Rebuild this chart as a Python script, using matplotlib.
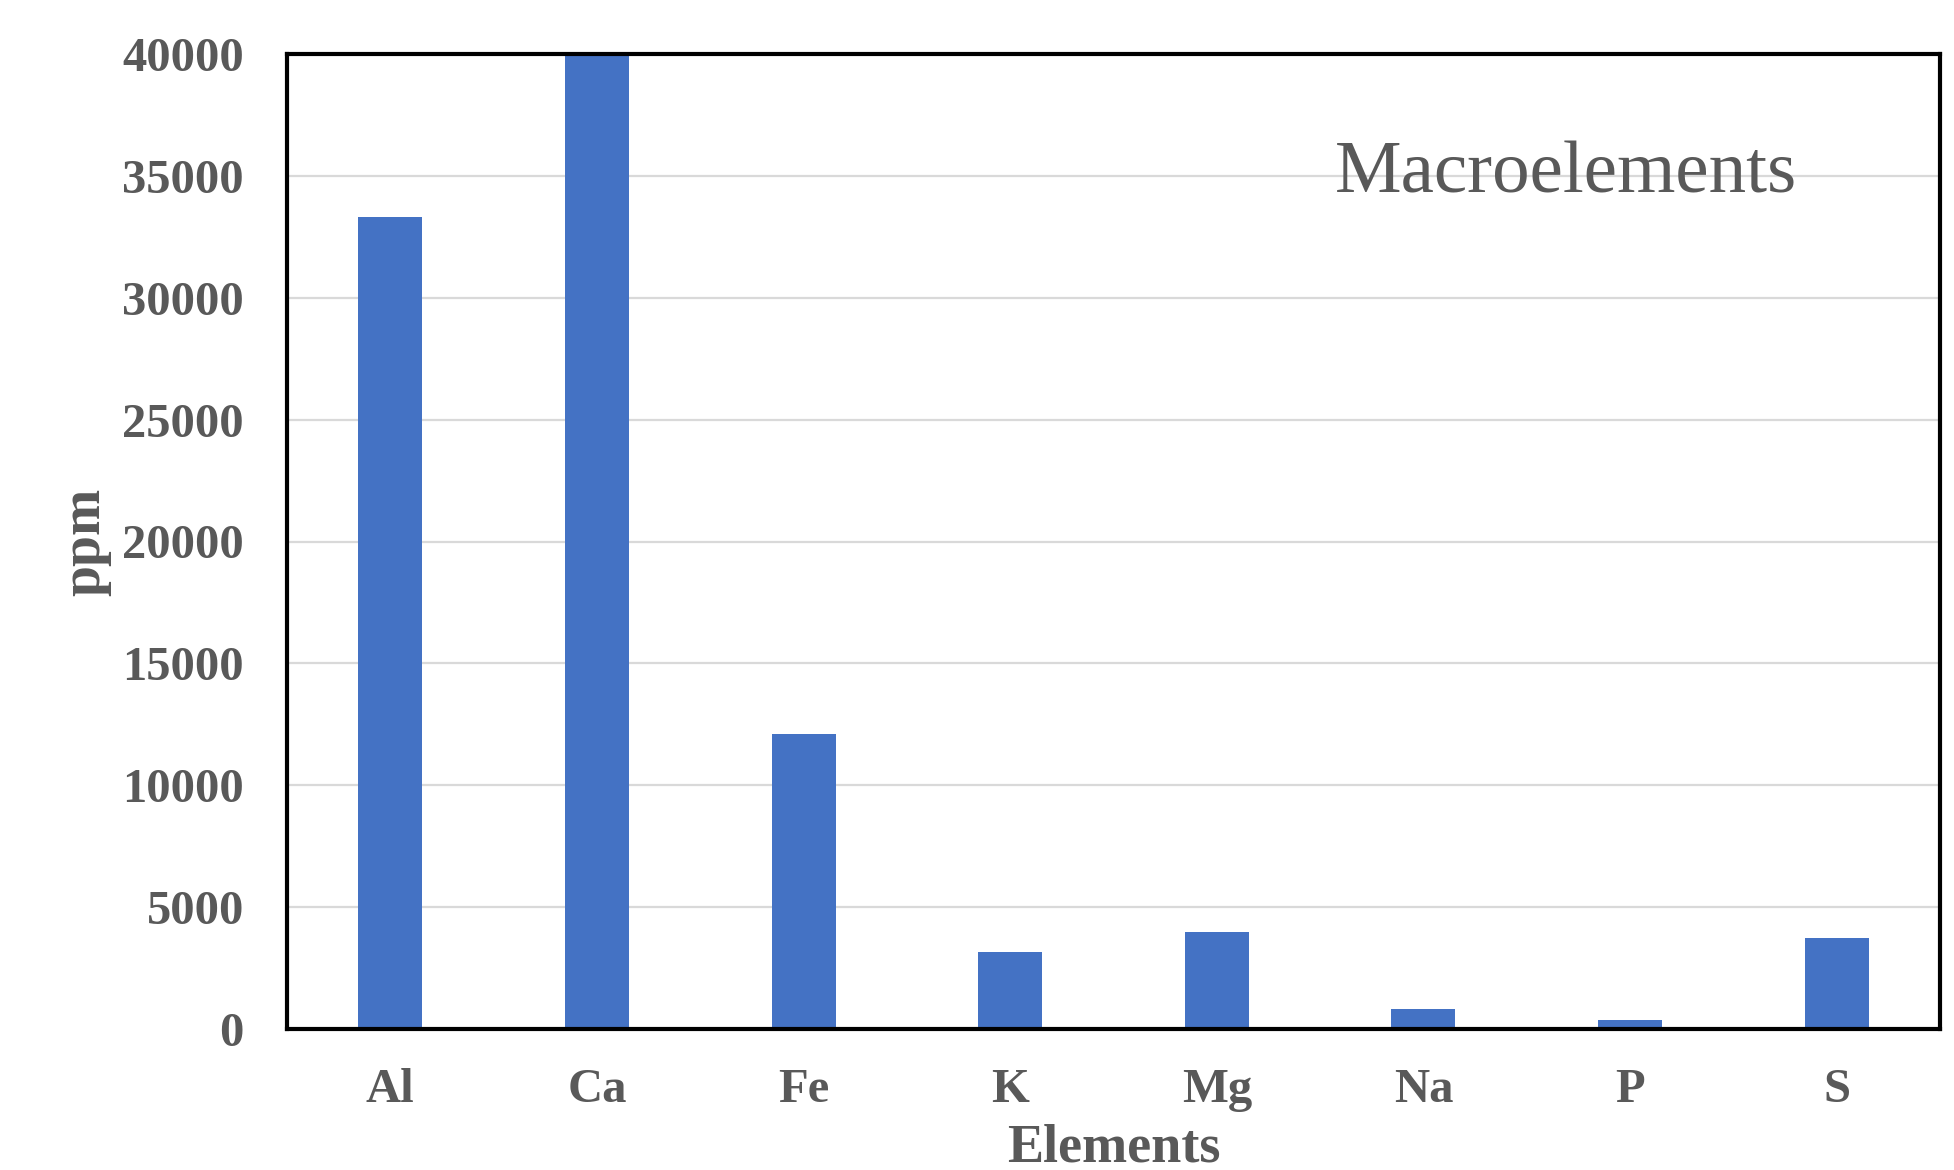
"""Bar chart of macroelement concentrations."""

import matplotlib
matplotlib.use("Agg")
import matplotlib.pyplot as plt

elements = ["Al", "Ca", "Fe", "K", "Mg", "Na", "P", "S"]
ppm = [33300, 40000, 12100, 3150, 4000, 820, 380, 3730]
yticks = [0, 5000, 10000, 15000, 20000, 25000, 30000, 35000, 40000]

TEXT = "#595959"
BAR = "#4472c4"

plt.rcParams["font.family"] = ["Liberation Serif", "DejaVu Serif"]

fig = plt.figure(figsize=(19.54, 11.70), dpi=100)
ax = fig.add_axes([287 / 1954, 1 - 1029 / 1170, (1940 - 287) / 1954, (1029 - 54) / 1170])

ax.bar(range(len(elements)), ppm, width=0.31, color=BAR, zorder=3)
ax.set_xlim(-0.5, len(elements) - 0.5)
ax.set_ylim(0, 40000)
ax.set_yticks(yticks)
ax.set_yticklabels([str(v) for v in yticks])
ax.set_xticks(range(len(elements)))
ax.set_xticklabels(elements)
ax.grid(axis="y", color="#d9d9d9", linewidth=1.6, zorder=0)
ax.tick_params(length=0, labelsize=35, labelcolor=TEXT)
ax.tick_params(axis="y", pad=31)
ax.tick_params(axis="x", pad=28)
for lab in ax.get_xticklabels() + ax.get_yticklabels():
    lab.set_fontweight("bold")
for sp in ax.spines.values():
    sp.set_linewidth(3)
    sp.set_color("black")
    sp.set_zorder(4)

ax.set_xlabel("Elements", fontsize=39, fontweight="bold", color=TEXT, labelpad=8)
ax.set_ylabel("ppm", fontsize=40, fontweight="bold", color=TEXT, labelpad=8)
ax.text(5.69, 35050, "Macroelements", fontsize=54, color=TEXT,
        ha="center", va="center", zorder=5)

fig.savefig("out.png", dpi=100)
